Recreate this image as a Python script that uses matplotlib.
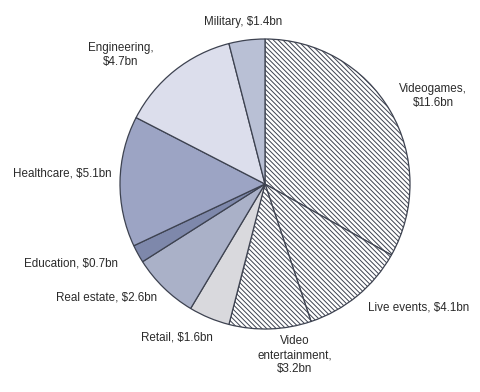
import matplotlib
matplotlib.use("Agg")
import matplotlib.pyplot as plt

categories = ["Videogames", "Live events", "Video entertainment", "Retail",
              "Real estate", "Education", "Healthcare", "Engineering", "Military"]
values = [11.6, 4.1, 3.2, 1.6, 2.6, 0.7, 5.1, 4.7, 1.4]
label_texts = ["Videogames,\n$11.6bn", "Live events, $4.1bn", "Video\nentertainment,\n$3.2bn",
               "Retail, $1.6bn", "Real estate, $2.6bn", "Education, $0.7bn",
               "Healthcare, $5.1bn", "Engineering,\n$4.7bn", "Military, $1.4bn"]

colors = ["white", "white", "white", "#d9d9dd", "#aab1c8", "#7e88ab",
          "#9ca4c4", "#dcdeec", "#b9c0d5"]
hatch_pattern = "\\" * 7
hatched = [True, True, True, False, False, False, False, False, False]

W, H = 480, 392
plt.rcParams['hatch.color'] = '#7c808c'
plt.rcParams['hatch.linewidth'] = 0.7

fig = plt.figure(figsize=(W / 100, H / 100), dpi=100)
ax = fig.add_axes([0, 0, 1, 1])

wedges, _ = ax.pie(values, startangle=90, counterclock=False, colors=colors,
                   center=(265, H - 184), radius=145, frame=True,
                   wedgeprops=dict(edgecolor="#3d4250", linewidth=0.9))
for w, h in zip(wedges, hatched):
    if h:
        w.set_hatch(hatch_pattern)

ax.set_xlim(0, W)
ax.set_ylim(0, H)
ax.set_aspect("equal")
ax.axis("off")

# label positions in pixel coords (x, y from top), alignment
label_pos = [(433, 96, "center"), (368, 307, "left"), (295, 355, "center"),
             (213, 337, "right"), (157, 298, "right"), (118, 264, "right"),
             (112, 173, "right"), (121, 55, "center"), (243, 22, "center")]
for txt, (x, y, ha) in zip(label_texts, label_pos):
    ax.text(x, H - y, txt, ha=ha, va="center", fontsize=8.4, color="#2b2b2b",
            family="Liberation Sans", linespacing=1.25)

fig.savefig("out.png", dpi=100)
